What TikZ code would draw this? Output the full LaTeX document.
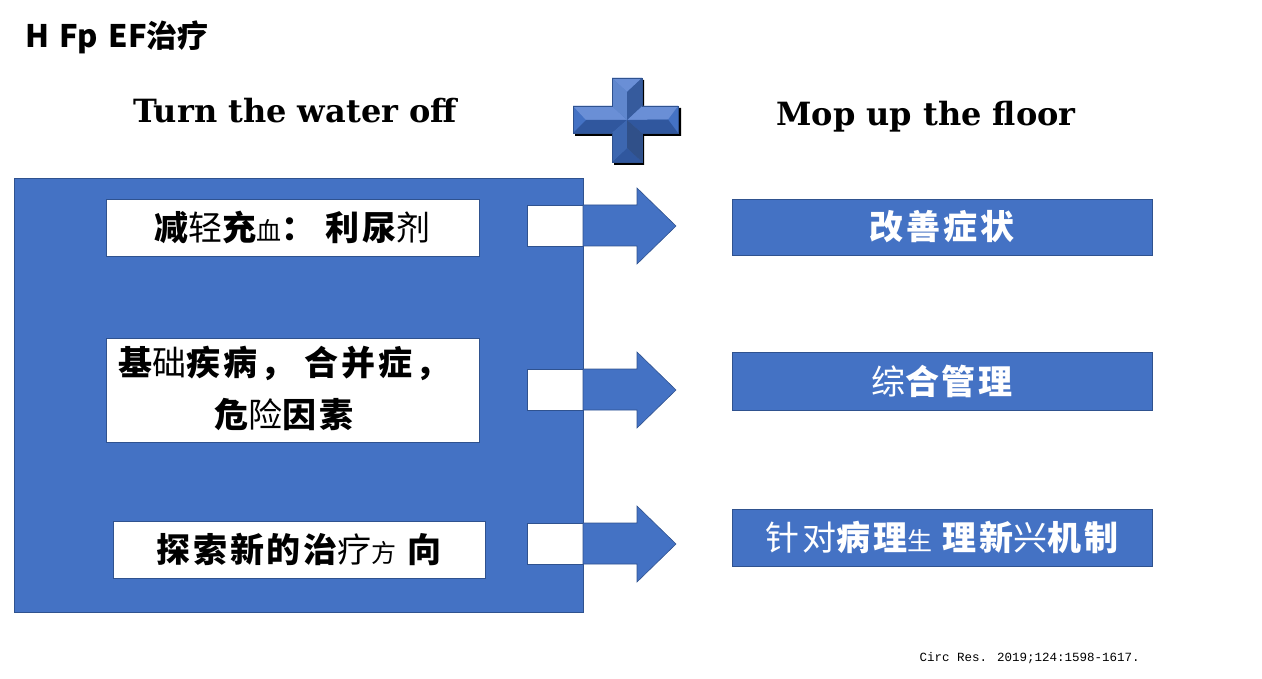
\documentclass[tikz,border=0pt]{standalone}
\usepackage{fontspec}
\setmainfont{Liberation Serif}
\newfontfamily\cjk{Noto Sans CJK SC}
\newfontfamily\cjks[LetterSpace=8]{Noto Sans CJK SC}
\newfontfamily\serifb{DejaVu Serif}
\newfontfamily\citefont{Liberation Mono}
\definecolor{pblue}{HTML}{4472C4}
\definecolor{pedge}{HTML}{2F528F}
\definecolor{plight}{HTML}{6A8FD6}
\definecolor{pdark}{HTML}{30579E}
\begin{document}
\begin{tikzpicture}[x=1pt,y=-1pt,
  wbox/.style={fill=white,draw=pedge,line width=0.6pt},
  bbox/.style={fill=pblue,draw=pedge,line width=0.6pt},
  ltxt/.style={font=\cjks\bfseries\fontsize{34}{52}\selectfont,text=black,align=center},
  rtxt/.style={font=\cjks\bfseries\fontsize{34}{40}\selectfont,text=white},
  arr/.style={fill=pblue,draw=pedge,line width=0.6pt}]
\useasboundingbox (0,0) rectangle (1262,679);
% title
\node[anchor=west,font=\cjk\bfseries\fontsize{31}{34}\selectfont] (title) at (22,37) {H\,\,Fp\,\,EF治疗};
\node[font=\serifb\bfseries\fontsize{32}{36}\selectfont,anchor=center] (t1) at (295,111) {Turn the water off};
\node[font=\serifb\bfseries\fontsize{32}{36}\selectfont,anchor=center] (t2) at (926,117) {Mop up the floor};
% plus sign
\fill[black] (614,80) -- (644,80) -- (644,108) -- (681,108) -- (681,136) -- (644,136) -- (644,165) -- (614,165) -- (614,136) -- (575,136) -- (575,108) -- (614,108) -- cycle;
\fill[pblue] (612,78) -- (642,78) -- (642,106) -- (678,106) -- (678,133) -- (642,133) -- (642,162) -- (612,162) -- (612,133) -- (573,133) -- (573,106) -- (612,106) -- cycle;
% bevel facets
\fill[plight] (612,78) -- (642,78) -- (627,92) -- cycle;
\fill[plight] (573,106) -- (612,106) -- (627,120) -- (586,120) -- cycle;
\fill[plight] (642,106) -- (678,106) -- (668,119.5) -- (627,120) -- cycle;
\fill[pdark] (573,133) -- (612,133) -- (627,120) -- (586,120) -- cycle;
\fill[pdark] (678,133) -- (642,133) -- (627,120) -- (668,119.5) -- cycle;
\fill[pdark] (612,162) -- (642,162) -- (627,148) -- cycle;
\fill[pblue!85!white] (612,78) -- (627,92) -- (627,120) -- (612,106) -- cycle;
\fill[pblue!80!black] (642,78) -- (627,92) -- (627,120) -- (642,106) -- cycle;
\fill[pblue!90!black] (612,162) -- (627,148) -- (627,120) -- (612,133) -- cycle;
\fill[pblue!70!black] (642,162) -- (627,148) -- (627,120) -- (642,133) -- cycle;
\draw[pedge,line width=0.5pt] (612,78) -- (642,78) -- (642,106) -- (678,106) -- (678,133) -- (642,133) -- (642,162) -- (612,162) -- (612,133) -- (573,133) -- (573,106) -- (612,106) -- cycle;
% big blue panel
\node[bbox,minimum width=569pt,minimum height=434pt,inner sep=0pt] (panel) at (298.5,395) {};
% left white boxes
\node[wbox,minimum width=373pt,minimum height=57pt,inner sep=0pt] (l1) at (292.5,227.5) {};
\node[ltxt] at (l1) {减{\mdseries 轻}充{\mdseries\fontsize{25}{28}\selectfont 血}： 利尿{\mdseries 剂}};
\node[wbox,minimum width=373pt,minimum height=104pt,inner sep=0pt] (l2) at (292.5,390) {};
\node[ltxt] at (284,388) {基{\mdseries 础}疾病， 合并症，\\危{\mdseries 险}因素};
\node[wbox,minimum width=372pt,minimum height=57pt,inner sep=0pt] (l3) at (299,549.5) {};
\node[ltxt] at (l3) {探索新的治{\mdseries 疗}{\mdseries\fontsize{25}{28}\selectfont 方} 向};
% arrows with notches
\foreach \n/\c in {1/226,2/390,3/544}{
  \fill[white] (527,\c-21) rectangle (583,\c+20);
  \draw[pedge,line width=0.6pt] (583,\c-21) -- (527,\c-21) -- (527,\c+20) -- (583,\c+20);
  \draw[arr] (583,\c-21) -- (637,\c-21) -- (637,\c-38) -- (676,\c) -- (637,\c+38) -- (637,\c+20) -- (583,\c+20) -- cycle;
}
% right blue boxes
\node[bbox,minimum width=420pt,minimum height=56pt,inner sep=0pt] (r1) at (942,227) {};
\node[rtxt] at (r1) {改善症状};
\node[bbox,minimum width=420pt,minimum height=58pt,inner sep=0pt] (r2) at (942,381) {};
\node[rtxt] at (r2) {{\mdseries 综}合管理};
\node[bbox,minimum width=420pt,minimum height=57pt,inner sep=0pt] (r3) at (942,537.5) {};
\node[rtxt] at (r3) {{\mdseries 针对}病理{\mdseries\fontsize{25}{28}\selectfont 生} 理新{\mdseries 兴}机制};
% citation
\node[anchor=west,font=\citefont\fontsize{12.5}{15}\selectfont] (cite) at (916,658) {Circ Res. 2019;124:1598-1617.};
\end{tikzpicture}
\end{document}
